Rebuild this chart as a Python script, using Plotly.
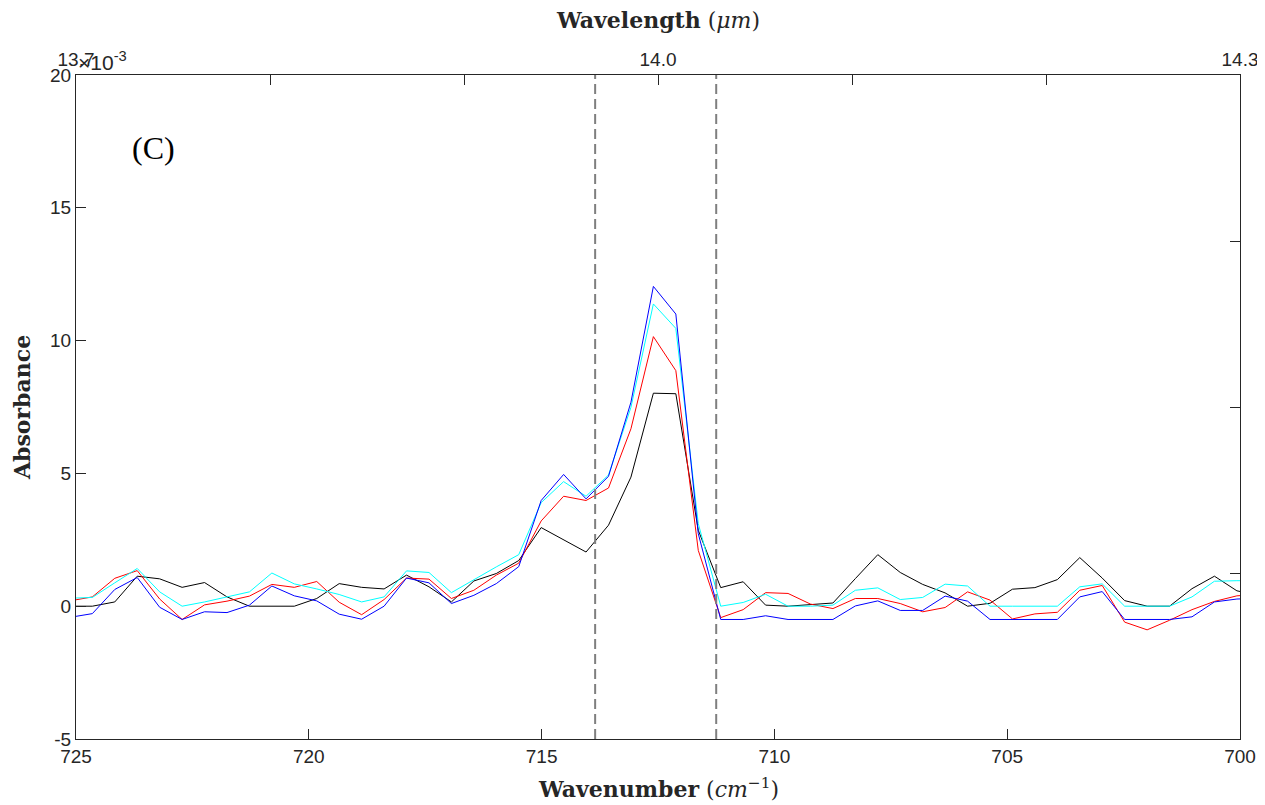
import plotly.graph_objects as go

# ---------------- data (absorbance in units of 1e-3) ----------------
wn_start = 725.131
wn_step = 0.482
n_points = 54
wavenumber = [round(wn_start - wn_step * k, 3) for k in range(n_points)]

black = [0, 0, 0.16, 1.13, 1.03, 0.71, 0.89, 0.35, 0, 0,
         0, 0.29, 0.85, 0.71, 0.65, 1.17, 0.73, 0.16, 0.95, 1.23,
         1.72, 2.96, 2.51, 2.04, 3.05, 4.86, 8.02, 8.0, 2.86, 0.70,
         0.92, 0.04, 0, 0.05, 0.12, 1.04, 1.94, 1.27, 0.82, 0.5,
         0.0, 0.11, 0.64, 0.70, 1.0, 1.83, 1.06, 0.21, 0, 0,
         0.66, 1.13, 0.58, 0.4]
cyan = [0.3, 0.33, 0.88, 1.42, 0.54, 0.0, 0.16, 0.35, 0.54, 1.25,
        0.84, 0.65, 0.44, 0.16, 0.35, 1.33, 1.27, 0.51, 1.0, 1.48,
        1.94, 3.90, 4.69, 4.14, 4.94, 7.49, 11.38, 10.46, 3.11, 0.0,
        0.14, 0.45, 0, 0, 0.04, 0.6, 0.69, 0.25, 0.33, 0.83,
        0.76, 0, 0, 0, 0, 0.73, 0.84, 0, 0, 0,
        0.35, 0.94, 0.96, 0.96]
red = [0.2, 0.35, 1.05, 1.34, 0.27, -0.5, 0.05, 0.19, 0.38, 0.82,
       0.71, 0.93, 0.15, -0.32, 0.25, 1.06, 1.02, 0.29, 0.6, 1.17,
       1.62, 3.21, 4.14, 3.98, 4.45, 6.68, 10.15, 8.87, 2.1, -0.43,
       -0.13, 0.51, 0.48, 0.08, -0.09, 0.29, 0.29, 0.1, -0.21, -0.05,
       0.54, 0.23, -0.48, -0.29, -0.23, 0.6, 0.78, -0.6, -0.89, -0.53,
       -0.13, 0.18, 0.39, 0.45]
blue = [-0.42, -0.28, 0.63, 1.08, -0.04, -0.5, -0.21, -0.24, 0.04, 0.76,
        0.39, 0.2, -0.3, -0.49, 0, 1.06, 0.88, 0.1, 0.41, 0.85,
        1.49, 3.98, 4.96, 4.04, 4.89, 7.68, 12.04, 11.0, 2.73, -0.5,
        -0.5, -0.36, -0.5, -0.5, -0.5, 0.01, 0.2, -0.16, -0.16, 0.38,
        0.19, -0.5, -0.5, -0.5, -0.5, 0.35, 0.55, -0.5, -0.5, -0.5,
        -0.4, 0.16, 0.27, 0.3]

series = [("black", black, "#000000"),
          ("red", red, "#FF0000"),
          ("cyan", cyan, "#00FFFF"),
          ("blue", blue, "#0000FF")]

band_edges = [713.85, 711.25]

x_ticks = [725, 720, 715, 710, 705, 700]
y_ticks = [-5, 0, 5, 10, 15, 20]
y_labels = ["-5", "0", "5", "10", "15", "20"]
top_ticks = [13.7, 13.8, 13.9, 14.0, 14.1, 14.2, 14.3]
top_labels = ["13.7", "", "", "14.0", "", "", "14.3"]

# ---------------- figure ----------------
AX = "#262626"
TICKFONT = dict(family="Liberation Sans, Arial, sans-serif", size=19, color=AX)
SERIF = "DejaVu Serif, Liberation Serif, serif"

fig = go.Figure()
for name, vals, col in series:
    fig.add_trace(go.Scatter(x=wavenumber, y=vals, mode="lines", name=name,
                             line=dict(color=col, width=1), showlegend=False,
                             xaxis="x", yaxis="y"))

for wn in band_edges:
    fig.add_trace(go.Scatter(x=[wn, wn], y=[-5, 20], mode="lines",
                             line=dict(color="#7f7f7f", width=2, dash="10px,5px"),
                             showlegend=False, hoverinfo="skip",
                             xaxis="x", yaxis="y"))

# invisible trace to activate secondary axes
fig.add_trace(go.Scatter(x=[13.7], y=[0], mode="markers", marker=dict(opacity=0),
                         showlegend=False, hoverinfo="skip", xaxis="x2", yaxis="y2"))

# page body has an 8px margin, so the figure is sized/offset to compensate
fig.update_layout(
    width=1257, height=797,
    margin=dict(l=68, r=25, t=67, b=66, autoexpand=False),
    paper_bgcolor="white", plot_bgcolor="white",
    xaxis=dict(range=[725, 700], tickvals=x_ticks, ticks="inside", ticklen=10,
               tickcolor=AX, showline=True, linecolor=AX, linewidth=1,
               showgrid=False, zeroline=False, tickfont=TICKFONT, anchor="y",
               automargin=False, ticklabeloverflow="allow"),
    xaxis2=dict(range=[13.7, 14.3], overlaying="x", side="top", anchor="y",
                tickvals=top_ticks, ticktext=top_labels, ticks="inside", ticklen=10,
                tickcolor=AX, showline=True, linecolor=AX, linewidth=1,
                showgrid=False, zeroline=False, tickfont=TICKFONT, automargin=False,
                ticklabeloverflow="allow"),
    yaxis=dict(range=[-5, 20], tickvals=y_ticks, ticktext=y_labels, ticks="inside",
               ticklen=10, tickcolor=AX, showline=True, linecolor=AX, linewidth=1,
               showgrid=False, zeroline=False, tickfont=TICKFONT, anchor="x",
               automargin=False),
    yaxis2=dict(range=[0, 4], overlaying="y", side="right", anchor="x",
                tickvals=[1, 2, 3], ticks="inside", ticklen=10, tickcolor=AX,
                showticklabels=False, showline=True, linecolor=AX, linewidth=1,
                showgrid=False, zeroline=False, automargin=False),
    annotations=[
        dict(text="<b>Wavenumber</b> (<i>cm</i><sup>−1</sup>)", xref="paper", yref="paper",
             x=0.5, y=-0.074, xanchor="center", yanchor="middle", showarrow=False,
             font=dict(family=SERIF, size=22, color=AX)),
        dict(text="<b>Wavelength</b> (<i>μm</i>)", xref="paper", yref="paper",
             x=0.5, y=1.083, xanchor="center", yanchor="middle", showarrow=False,
             font=dict(family=SERIF, size=22, color=AX)),
        dict(text="<b>Absorbance</b>", xref="paper", yref="paper",
             x=-0.0464, y=0.5, xanchor="center", yanchor="middle", textangle=-90,
             showarrow=False, font=dict(family=SERIF, size=22, color=AX)),
        dict(text="(C)", xref="paper", yref="paper", x=0.0666, y=0.890,
             xanchor="center", yanchor="middle", showarrow=False,
             font=dict(family="Liberation Serif, serif", size=32, color="#000000")),
        dict(text="×10<sup>-3</sup>", xref="paper", yref="paper", x=0.0, y=0.998,
             xanchor="left", yanchor="bottom", showarrow=False,
             font=dict(family="Liberation Sans, Arial, sans-serif", size=21, color=AX)),
    ],
)

fig.write_html("out.html")
